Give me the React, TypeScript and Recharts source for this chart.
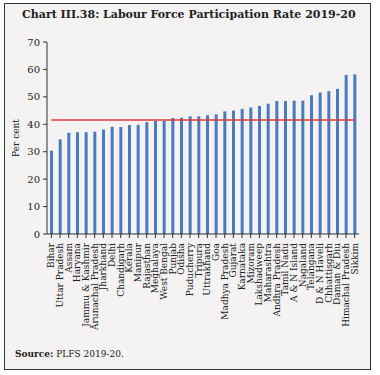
import { Bar, ComposedChart, ReferenceLine, XAxis, YAxis } from 'recharts'

const states = [
  'Bihar', 'Uttar Pradesh', 'Assam', 'Haryana', 'Jammu & Kashmir', 'Arunachal Pradesh',
  'Jharkhand', 'Delhi', 'Chandigarh', 'Kerala', 'Manipur', 'Rajasthan', 'Meghalaya',
  'West Bengal', 'Punjab', 'Odisha', 'Puducherry', 'Tripura', 'Uttrakhand', 'Goa',
  'Madhya Pradesh', 'Gujarat', 'Karnataka', 'Mizoram', 'Lakshadweep', 'Maharashtra',
  'Andhra Pradesh', 'Tamil Nadu', 'A & N Island', 'Nagaland', 'Telangana', 'D & N Haveli',
  'Chhattisgarh', 'Daman & Diu', 'Himachal Pradesh', 'Sikkim',
]

const lfpr = [
  30.4, 34.5, 36.9, 37.1, 37.1, 37.3, 38.1, 39.1, 39.0, 39.7, 39.8, 40.8, 41.3,
  41.3, 42.3, 42.4, 42.9, 42.9, 43.3, 43.6, 44.7, 45.0, 45.6, 46.1, 46.7, 47.5,
  48.5, 48.5, 48.6, 48.6, 50.6, 51.6, 52.1, 52.9, 58.0, 58.2,
]

const allIndia = 41.6
const yTicks = [0, 10, 20, 30, 40, 50, 60, 70]

const data = states.map((name, i) => ({ name, value: lfpr[i] }))

const FONT = '"DejaVu Serif", serif'

function StateTick({ x, y, payload }: any) {
  return (
    <text
      x={x}
      y={y + 3}
      transform={`rotate(-90, ${x}, ${y + 3})`}
      textAnchor="end"
      dominantBaseline="central"
      fontFamily={FONT}
      fontSize={9}
      fill="#222"
    >
      {payload.value}
    </text>
  )
}

export default function App() {
  return (
    <div style={{ position: 'absolute', left: 0, top: 0, width: 380, height: 375, background: '#fff' }}>
      <div
        style={{
          position: 'absolute',
          left: 4,
          top: 3,
          width: 365,
          height: 365,
          border: '1.5px solid #333',
          background: '#f4f2f3',
        }}
      />
      <div
        style={{
          position: 'absolute',
          left: 22,
          top: 8,
          fontFamily: FONT,
          fontWeight: 'bold',
          fontSize: 11,
          color: '#222',
          whiteSpace: 'nowrap',
        }}
      >
        Chart III.38: Labour Force Participation Rate 2019-20
      </div>
      <div style={{ position: 'absolute', left: 0, top: 0 }}>
        <ComposedChart
          width={380}
          height={340}
          data={data}
          margin={{ top: 42, right: 21, left: 0, bottom: 0 }}
        >
          <XAxis
            dataKey="name"
            interval={0}
            height={106}
            tick={<StateTick />}
            tickSize={4}
            axisLine={{ stroke: '#333' }}
            tickLine={{ stroke: '#333' }}
          />
          <YAxis
            width={47}
            domain={[0, 70]}
            ticks={yTicks}
            tickSize={4}
            tickMargin={3}
            axisLine={{ stroke: '#333' }}
            tickLine={{ stroke: '#333' }}
            tick={{ fontFamily: FONT, fontSize: 10, fill: '#222' }}
            label={{
              value: 'Per cent',
              angle: -90,
              position: 'insideLeft',
              offset: 16,
              style: { fontFamily: FONT, fontSize: 9, fill: '#222', textAnchor: 'middle' },
            }}
          />
          <Bar dataKey="value" fill="#4a7bbd" barSize={3} isAnimationActive={false} />
          <ReferenceLine
            segment={[
              { x: states[0], y: allIndia },
              { x: states[states.length - 1], y: allIndia },
            ]}
            stroke="#e0383e"
            strokeWidth={1.5}
          />
        </ComposedChart>
      </div>
      <div
        style={{
          position: 'absolute',
          left: 15,
          top: 349,
          fontFamily: FONT,
          fontSize: 9,
          color: '#222',
          whiteSpace: 'nowrap',
        }}
      >
        <b>Source:</b> PLFS 2019-20.
      </div>
    </div>
  )
}
